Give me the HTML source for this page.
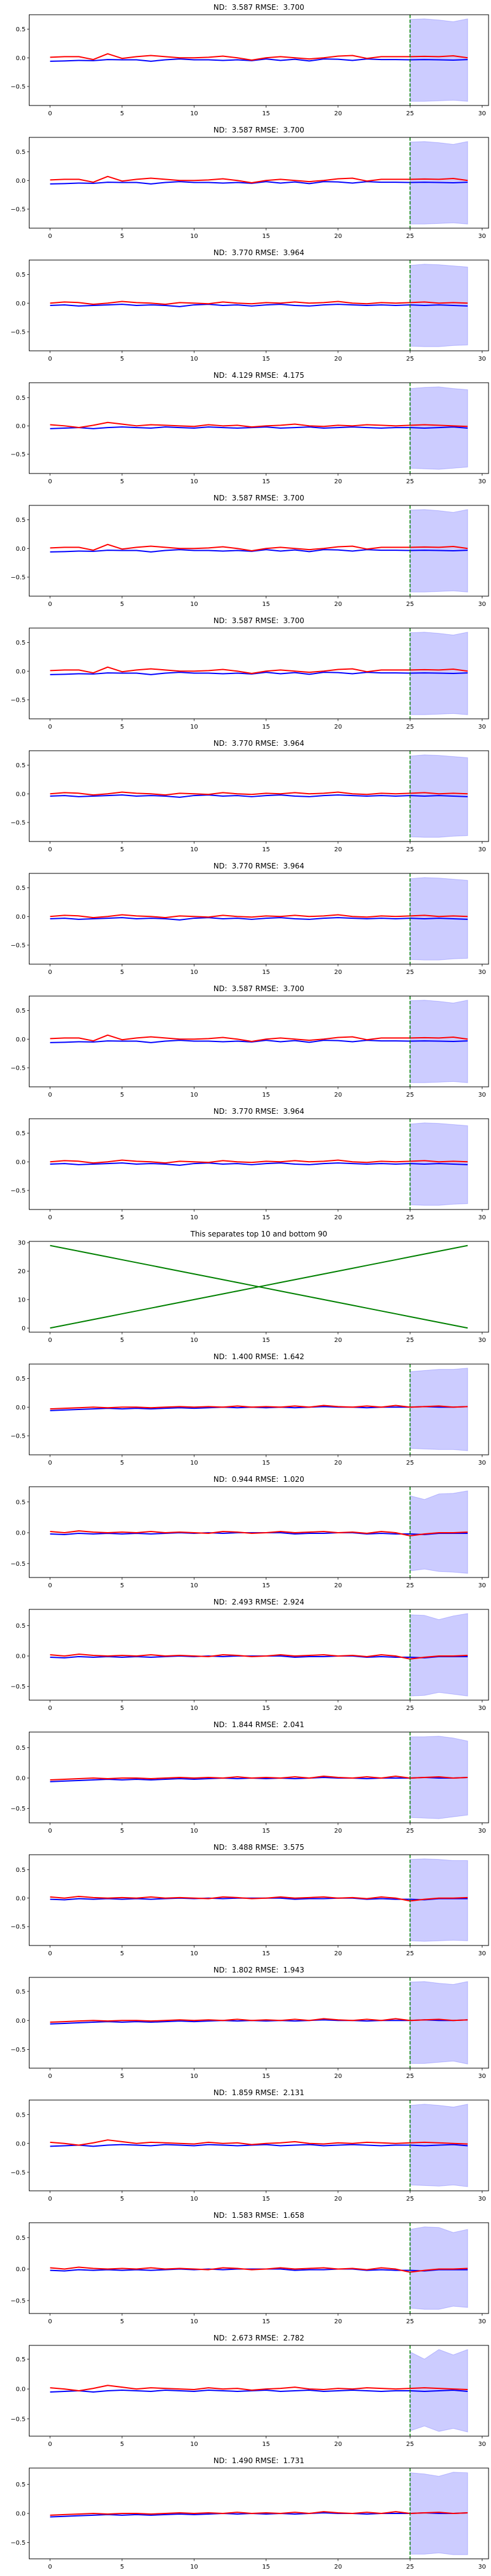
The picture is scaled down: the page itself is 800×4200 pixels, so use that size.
<!DOCTYPE html>
<html><head><meta charset="utf-8">
<style>
html,body{margin:0;padding:0;background:#fff;}
svg{display:block;font-family:"DejaVu Sans","Liberation Sans",sans-serif;}
</style></head>
<body>
<svg id="fig" width="800" height="4200" viewBox="0 0 800 4200" xmlns="http://www.w3.org/2000/svg"></svg>
<script>
// ---- data ----
const titles = ["ND:  3.587 RMSE:  3.700","ND:  3.587 RMSE:  3.700","ND:  3.770 RMSE:  3.964","ND:  4.129 RMSE:  4.175","ND:  3.587 RMSE:  3.700","ND:  3.587 RMSE:  3.700","ND:  3.770 RMSE:  3.964","ND:  3.770 RMSE:  3.964","ND:  3.587 RMSE:  3.700","ND:  3.770 RMSE:  3.964","This separates top 10 and bottom 90","ND:  1.400 RMSE:  1.642","ND:  0.944 RMSE:  1.020","ND:  2.493 RMSE:  2.924","ND:  1.844 RMSE:  2.041","ND:  3.488 RMSE:  3.575","ND:  1.802 RMSE:  1.943","ND:  1.859 RMSE:  2.131","ND:  1.583 RMSE:  1.658","ND:  2.673 RMSE:  2.782","ND:  1.490 RMSE:  1.731"];
const xTicks = [0,5,10,15,20,25,30];
const yTicks = [-0.5,0,0.5];
const sepTicks = [0,10,20,30];
const sepUp = [0,1,2,3,4,5,6,7,8,9,10,11,12,13,14,15,16,17,18,19,20,21,22,23,24,25,26,27,28,29];
const sepDown = [29,28,27,26,25,24,23,22,21,20,19,18,17,16,15,14,13,12,11,10,9,8,7,6,5,4,3,2,1,0];
const splitX = 25;
const bandX = [25,26,27,28,29];

const redA = [0.01,0.02,0.02,-0.03,0.07,-0.01,0.02,0.04,0.02,0,0,0.01,0.03,0,-0.04,0,0.02,0,-0.02,0,0.03,0.04,-0.01,0.02,0.02,0.02,0.025,0.02,0.035,0];
const blueA = [-0.06,-0.055,-0.045,-0.05,-0.03,-0.035,-0.035,-0.06,-0.035,-0.02,-0.035,-0.035,-0.045,-0.035,-0.05,-0.02,-0.045,-0.025,-0.055,-0.02,-0.025,-0.045,-0.02,-0.03,-0.03,-0.035,-0.03,-0.035,-0.04,-0.03];
const redB = [0.0,0.02,0.01,-0.02,0.0,0.03,0.01,0.0,-0.02,0.01,0.0,-0.01,0.02,0.0,-0.01,0.01,0.0,0.02,0.0,0.01,0.03,0.0,-0.01,0.01,0.0,0.01,0.02,0.0,0.01,0.0];
const blueB = [-0.04,-0.03,-0.05,-0.04,-0.03,-0.02,-0.04,-0.03,-0.04,-0.06,-0.03,-0.02,-0.04,-0.03,-0.05,-0.03,-0.02,-0.04,-0.05,-0.03,-0.02,-0.03,-0.04,-0.03,-0.04,-0.03,-0.04,-0.03,-0.04,-0.05];
const redC = [0.02,0.0,-0.03,0.01,0.06,0.03,0.0,0.02,0.01,0.0,-0.01,0.02,0.0,0.01,-0.02,0.0,0.01,0.03,0.0,-0.01,0.01,0.0,0.02,0.01,0.0,0.01,0.02,0.01,0.0,-0.01];
const blueC = [-0.05,-0.04,-0.03,-0.05,-0.03,-0.02,-0.03,-0.04,-0.02,-0.03,-0.04,-0.02,-0.03,-0.04,-0.03,-0.02,-0.04,-0.03,-0.02,-0.04,-0.03,-0.02,-0.03,-0.04,-0.03,-0.03,-0.04,-0.03,-0.02,-0.04];
const redD = [-0.03,-0.02,-0.01,0.0,-0.01,0.0,0.0,-0.01,0.0,0.01,0.0,0.01,0.0,0.02,0.0,0.01,0.0,0.02,0.0,0.03,0.01,0.0,0.02,0.0,0.03,0.0,0.01,0.02,0.0,0.01];
const blueD = [-0.06,-0.05,-0.04,-0.03,-0.02,-0.03,-0.02,-0.03,-0.02,-0.01,-0.02,-0.01,0.0,-0.01,0.0,-0.01,0.0,-0.01,0.0,0.01,0.0,0.0,-0.01,0.0,0.0,0.0,0.01,0.0,0.0,0.01];
const redE = [0.02,0.0,0.03,0.01,0.0,0.01,0.0,0.02,0.0,0.01,0.0,-0.01,0.02,0.01,-0.01,0.0,0.02,0.0,0.01,0.02,0.0,0.01,-0.01,0.02,0.0,-0.05,-0.02,0.0,0.0,0.01];
const blueE = [-0.02,-0.03,-0.01,-0.02,-0.01,-0.02,-0.01,-0.02,-0.01,0.0,-0.01,0.0,-0.01,0.0,0.0,0.0,0.0,-0.02,-0.01,-0.01,0.0,0.0,-0.02,-0.01,-0.02,-0.02,-0.03,-0.01,-0.01,-0.01];

const redSeries = [redA,redA,redB,redC,redA,redA,redB,redB,redA,redB,null,redD,redE,redE,redD,redE,redD,redC,redE,redC,redD];
const blueSeries = [blueA,blueA,blueB,blueC,blueA,blueA,blueB,blueB,blueA,blueB,null,blueD,blueE,blueE,blueD,blueE,blueD,blueC,blueE,blueC,blueD];
const bandUp = [[.67,.68,.66,.63,.68],[.67,.68,.66,.63,.68],[.66,.68,.67,.65,.63],[.66,.68,.69,.66,.64],[.67,.68,.66,.63,.68],[.67,.68,.66,.63,.68],[.66,.68,.67,.65,.63],[.66,.68,.67,.65,.63],[.67,.68,.66,.63,.68],[.66,.68,.67,.65,.63],null,[.62,.64,.66,.66,.68],[.60,.54,.63,.64,.68],[.68,.67,.60,.66,.70],[.68,.68,.69,.66,.61],[.68,.69,.68,.66,.66],[.66,.67,.64,.62,.67],[.66,.68,.66,.63,.68],[.63,.67,.66,.58,.63],[.62,.50,.66,.57,.66],[.70,.68,.64,.71,.70]];
const bandLo = [[-.76,-.76,-.75,-.74,-.76],[-.76,-.76,-.75,-.74,-.76],[-.75,-.76,-.76,-.74,-.73],[-.75,-.76,-.77,-.75,-.73],[-.76,-.76,-.75,-.74,-.76],[-.76,-.76,-.75,-.74,-.76],[-.75,-.76,-.76,-.74,-.73],[-.75,-.76,-.76,-.74,-.73],[-.76,-.76,-.75,-.74,-.76],[-.75,-.76,-.76,-.74,-.73],null,[-.72,-.73,-.74,-.74,-.76],[-.62,-.59,-.63,-.64,-.66],[-.66,-.65,-.60,-.63,-.66],[-.65,-.66,-.67,-.64,-.61],[-.75,-.76,-.75,-.74,-.75],[-.74,-.74,-.72,-.70,-.75],[-.72,-.73,-.74,-.72,-.75],[-.62,-.64,-.64,-.59,-.61],[-.70,-.62,-.71,-.66,-.72],[-.70,-.70,-.68,-.71,-.71]];

// ---- layout ----
const NS = "http://www.w3.org/2000/svg";
const fig = document.getElementById('fig');
const AX_L = 47.6, AX_R = 796, AX_H = 148, PITCH = 200, AX_T0 = 24;
const XMIN = -1.45, XMAX = 30.45;
function sx(v){ return AX_L + (v - XMIN) / (XMAX - XMIN) * (AX_R - AX_L); }
function mk(tag, attrs, parent){ const e = document.createElementNS(NS, tag); for (const k in attrs) e.setAttribute(k, attrs[k]); parent.appendChild(e); return e; }

for (let i = 0; i < titles.length; i++) {
  const top = AX_T0 + i * PITCH, bot = top + AX_H;
  const g = mk('g', {}, fig);
  
  
  let ymin, ymax, ticks;
  if (redSeries[i]) {
    const all = redSeries[i].concat(blueSeries[i], bandUp[i], bandLo[i]);
    const lo = Math.min(...all), hi = Math.max(...all), m = (hi - lo) * 0.05;
    ymin = lo - m; ymax = hi + m; ticks = yTicks;
  } else {
    ymin = -1.45; ymax = 30.45; ticks = sepTicks;
  }
  const sy = v => bot - (v - ymin) / (ymax - ymin) * AX_H;

  const t = mk('text', {x: (AX_L + AX_R) / 2, y: top - 8, 'text-anchor': 'middle', 'font-size': 12, fill: '#000'}, g);
  
  
  t.setAttribute('xml:space', 'preserve');
  t.style.whiteSpace = 'pre';
  t.textContent = titles[i];

  if (redSeries[i]) {
    let d = '';
    bandX.forEach((x, k) => { d += (k ? 'L' : 'M') + sx(x) + ',' + sy(bandUp[i][k]); });
    for (let k = bandX.length - 1; k >= 0; k--) d += 'L' + sx(bandX[k]) + ',' + sy(bandLo[i][k]);
    const band = mk('path', {d: d + 'Z', fill: 'rgba(0,0,255,0.2)', stroke: 'rgba(0,0,255,0.2)', 'stroke-width': 1}, g);
    
    
    const line = (arr, col, name) => {
      const pts = arr.map((v, k) => sx(k) + ',' + sy(v)).join(' ');
      const p = mk('polyline', {points: pts, fill: 'none', stroke: col, 'stroke-width': 2, 'stroke-linejoin': 'round'}, g);
      
      
    };
    line(blueSeries[i], '#0000ff', 'prediction-line');
    line(redSeries[i], '#ff0000', 'actual-line');
    const vl = mk('line', {x1: sx(splitX), x2: sx(splitX), y1: top, y2: bot, stroke: 'green', 'stroke-width': 1.5, 'stroke-dasharray': '5.5,2.5'}, g);
    
    
  } else {
    [sepUp, sepDown].forEach((arr, j) => {
      const pts = arr.map((v, k) => sx(k) + ',' + sy(v)).join(' ');
      const p = mk('polyline', {points: pts, fill: 'none', stroke: 'green', 'stroke-width': 2}, g);
      
      
    });
  }

  const frame = mk('rect', {x: AX_L, y: top, width: AX_R - AX_L, height: AX_H, fill: 'none', stroke: '#000', 'stroke-width': 1}, g);
  
  

  xTicks.forEach(v => {
    mk('line', {x1: sx(v), x2: sx(v), y1: bot, y2: bot + 3.5, stroke: '#000', 'stroke-width': 0.8}, g);
    const tl = mk('text', {x: sx(v), y: bot + 16, 'text-anchor': 'middle', 'font-size': 10, fill: '#000'}, g);
    
    
    tl.textContent = v;
  });
  ticks.forEach(v => {
    const y = sy(v);
    mk('line', {x1: AX_L - 3.5, x2: AX_L, y1: y, y2: y, stroke: '#000', 'stroke-width': 0.8}, g);
    const tl = mk('text', {x: AX_L - 6, y: y + 3.6, 'text-anchor': 'end', 'font-size': 10, fill: '#000'}, g);
    
    
    tl.textContent = redSeries[i] ? (v < 0 ? '\u2212' + Math.abs(v).toFixed(1) : v.toFixed(1)) : String(v);
  });
}
</script>
</body></html>
